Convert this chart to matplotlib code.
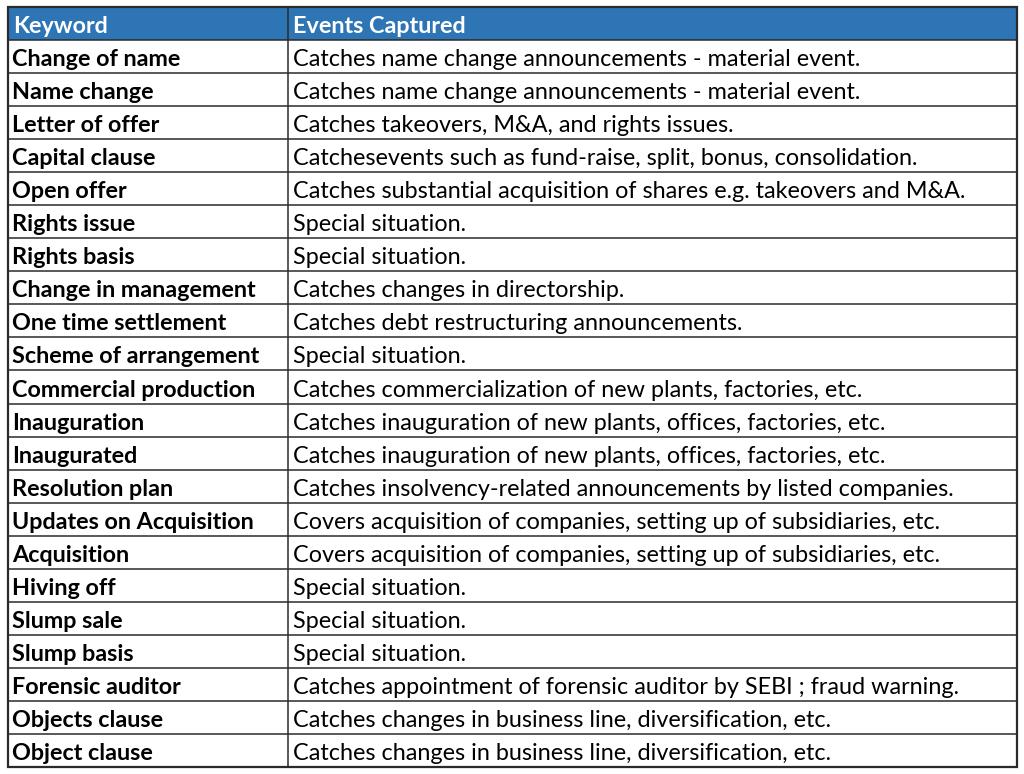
import matplotlib
matplotlib.use('Agg')
import matplotlib.pyplot as plt
from matplotlib.patches import Rectangle

# === Table content ===
header = ["Keyword", "Events Captured"]
keywords = [
    "Change of name", "Name change", "Letter of offer", "Capital clause",
    "Open offer", "Rights issue", "Rights basis", "Change in management",
    "One time settlement", "Scheme of arrangement", "Commercial production",
    "Inauguration", "Inaugurated", "Resolution plan", "Updates on Acquisition",
    "Acquisition", "Hiving off", "Slump sale", "Slump basis",
    "Forensic auditor", "Objects clause", "Object clause",
]
events = [
    "Catches name change announcements - material event.",
    "Catches name change announcements - material event.",
    "Catches takeovers, M&A, and rights issues.",
    "Catchesevents such as fund-raise, split, bonus, consolidation.",
    "Catches substantial acquisition of shares e.g. takeovers and M&A.",
    "Special situation.",
    "Special situation.",
    "Catches changes in directorship.",
    "Catches debt restructuring announcements.",
    "Special situation.",
    "Catches commercialization of new plants, factories, etc.",
    "Catches inauguration of new plants, offices, factories, etc.",
    "Catches inauguration of new plants, offices, factories, etc.",
    "Catches insolvency-related announcements by listed companies.",
    "Covers acquisition of companies, setting up of subsidiaries, etc.",
    "Covers acquisition of companies, setting up of subsidiaries, etc.",
    "Special situation.",
    "Special situation.",
    "Special situation.",
    "Catches appointment of forensic auditor by SEBI ; fraud warning.",
    "Catches changes in business line, diversification, etc.",
    "Catches changes in business line, diversification, etc.",
]

# === Layout (pixel coordinates) ===
left, right, split = 8, 1017, 288
top, bottom = 7, 767
n_rows = len(keywords) + 1
row_h = (bottom - top) / n_rows
header_color = '#2E75B6'
line_color = '#2b2b2b'
font = 'Lato'
fsize = 16.8
base_off = 7  # baseline distance above the row's bottom line

fig = plt.figure(figsize=(10.24, 7.74), dpi=100)
ax = fig.add_axes([0, 0, 1, 1])
ax.set_xlim(0, 1024)
ax.set_ylim(774, 0)
ax.axis('off')

# header background
ax.add_patch(Rectangle((left, top), right - left, row_h, facecolor=header_color, edgecolor='none'))

# header text
for x0, txt in zip([left, split], header):
    ax.text(x0 + 5, top + row_h - base_off, txt, color='white', fontsize=fsize, fontweight='bold',
            family=font, va='baseline', ha='left')

# rows
for i, (kw, ev) in enumerate(zip(keywords, events)):
    yb = top + row_h * (i + 2) - base_off
    ax.text(left + 4, yb, kw, color='black', fontsize=fsize, fontweight='bold',
            family=font, va='baseline', ha='left')
    ax.text(split + 5, yb, ev, color='black', fontsize=fsize,
            family=font, va='baseline', ha='left')

# grid lines
for i in range(1, n_rows):
    y = top + row_h * i
    ax.plot([left, right], [y, y], color=line_color, lw=1.1, solid_capstyle='butt')
ax.plot([split, split], [top, bottom], color=line_color, lw=1.1)
ax.add_patch(Rectangle((left, top), right - left, bottom - top, facecolor='none',
                       edgecolor=line_color, lw=1.6))

fig.savefig('out.png', dpi=100, facecolor='white')
